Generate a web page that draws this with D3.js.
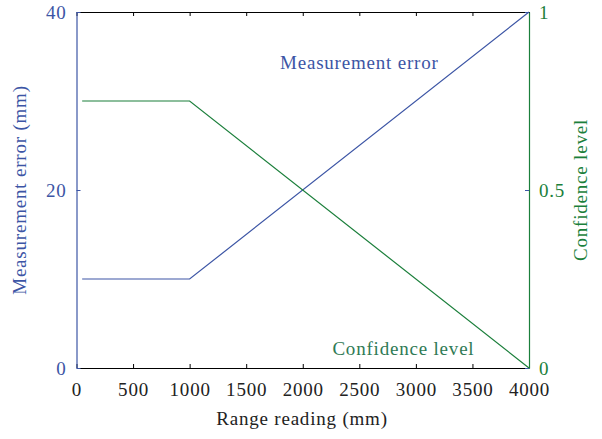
<!DOCTYPE html>
<html>
<head>
<meta charset="utf-8">
<script src="https://cdn.jsdelivr.net/npm/d3@7"></script>
<style>
  body { margin: 0; background: #fff; }
  text { font-family: "Liberation Serif", "DejaVu Serif", serif; letter-spacing: 0.8px; }
</style>
</head>
<body>
<svg id="chart" width="602" height="439"></svg>
<script>
// data
const rangeReading = [50, 1000, 4000];
const measurementError = [10, 10, 40];
const confidenceLevel = [0.75, 0.75, 0];

const xTicks = [0, 500, 1000, 1500, 2000, 2500, 3000, 3500, 4000];
const errorTicks = [0, 20, 40];
const confTicks = [0, 0.5, 1];

const blue = "#3c55a5";
const green = "#1b7f3b";
const fontSize = 19;

const margin = {top: 12, right: 73, bottom: 71, left: 76.5};
const width = 602, height = 439;

const svg = d3.select("#chart");

const x = d3.scaleLinear().domain([0, 4000]).range([margin.left, width - margin.right]);
const yL = d3.scaleLinear().domain([0, 40]).range([height - margin.bottom, margin.top]);
const yR = d3.scaleLinear().domain([0, 1]).range([height - margin.bottom, margin.top]);

const styleAxis = (g, color) => {
    g.selectAll(".domain").attr("stroke", color).attr("stroke-width", 1.2);
    g.selectAll(".tick line").attr("stroke", color);
    g.selectAll(".tick text").attr("fill", color).style("font-size", fontSize + "px")
        .style("font-family", "'Liberation Serif', serif");
};

// top border with inward ticks
svg.append("g")
    .attr("transform", `translate(0,${margin.top})`)
    .call(d3.axisTop(x).tickValues(xTicks).tickSizeInner(-4).tickSizeOuter(0).tickFormat(""))
    .call(g => styleAxis(g, "#000"));

// bottom axis
svg.append("g")
    .attr("transform", `translate(0,${height - margin.bottom})`)
    .call(d3.axisBottom(x).tickValues(xTicks).tickSizeInner(-4).tickSizeOuter(0).tickPadding(15)
        .tickFormat(d3.format("d")))
    .call(g => styleAxis(g, "#000"))
    .call(g => g.selectAll(".tick text").attr("fill", "#222"));

// left axis
svg.append("g")
    .attr("transform", `translate(${margin.left},0)`)
    .call(d3.axisLeft(yL).tickValues(errorTicks).tickSizeInner(-4).tickSizeOuter(0).tickPadding(10))
    .call(g => styleAxis(g, blue));

// right axis
svg.append("g")
    .attr("transform", `translate(${width - margin.right},0)`)
    .call(d3.axisRight(yR).tickValues(confTicks).tickSizeInner(-4).tickSizeOuter(0).tickPadding(10)
        .tickFormat(d3.format("")))
    .call(g => styleAxis(g, green))
    .call(g => g.selectAll(".tick line").attr("stroke", blue));

// lines
const errLine = d3.line().x((d, i) => x(rangeReading[i])).y(d => yL(d));
const confLine = d3.line().x((d, i) => x(rangeReading[i])).y(d => yR(d));

svg.append("path")
    .datum(measurementError)
    .attr("fill", "none")
    .attr("stroke", blue)
    .attr("stroke-width", 1.2)
    .attr("d", errLine);

svg.append("path")
    .datum(confidenceLevel)
    .attr("fill", "none")
    .attr("stroke", green)
    .attr("stroke-width", 1.2)
    .attr("d", confLine);

// in-plot labels
svg.append("text")
    .attr("x", x(2500)).attr("y", yL(33.6))
    .attr("text-anchor", "middle")
    .attr("fill", blue)
    .style("font-size", fontSize + "px")
    .text("Measurement error");

svg.append("text")
    .attr("x", x(2890)).attr("y", yR(0.037))
    .attr("text-anchor", "middle")
    .attr("fill", "#2f7a55")
    .style("font-size", fontSize + "px")
    .text("Confidence level");

// axis titles
svg.append("text")
    .attr("x", 302).attr("y", 425)
    .attr("text-anchor", "middle")
    .attr("fill", "#222")
    .style("font-size", fontSize + "px")
    .text("Range reading (mm)");

svg.append("text")
    .attr("transform", `translate(26,${(margin.top + height - margin.bottom) / 2}) rotate(-90)`)
    .attr("text-anchor", "middle")
    .attr("fill", blue)
    .style("font-size", fontSize + "px")
    .text("Measurement error (mm)");

svg.append("text")
    .attr("transform", `translate(587,${(margin.top + height - margin.bottom) / 2}) rotate(-90)`)
    .attr("text-anchor", "middle")
    .attr("fill", green)
    .style("font-size", fontSize + "px")
    .text("Confidence level");
</script>
</body>
</html>
